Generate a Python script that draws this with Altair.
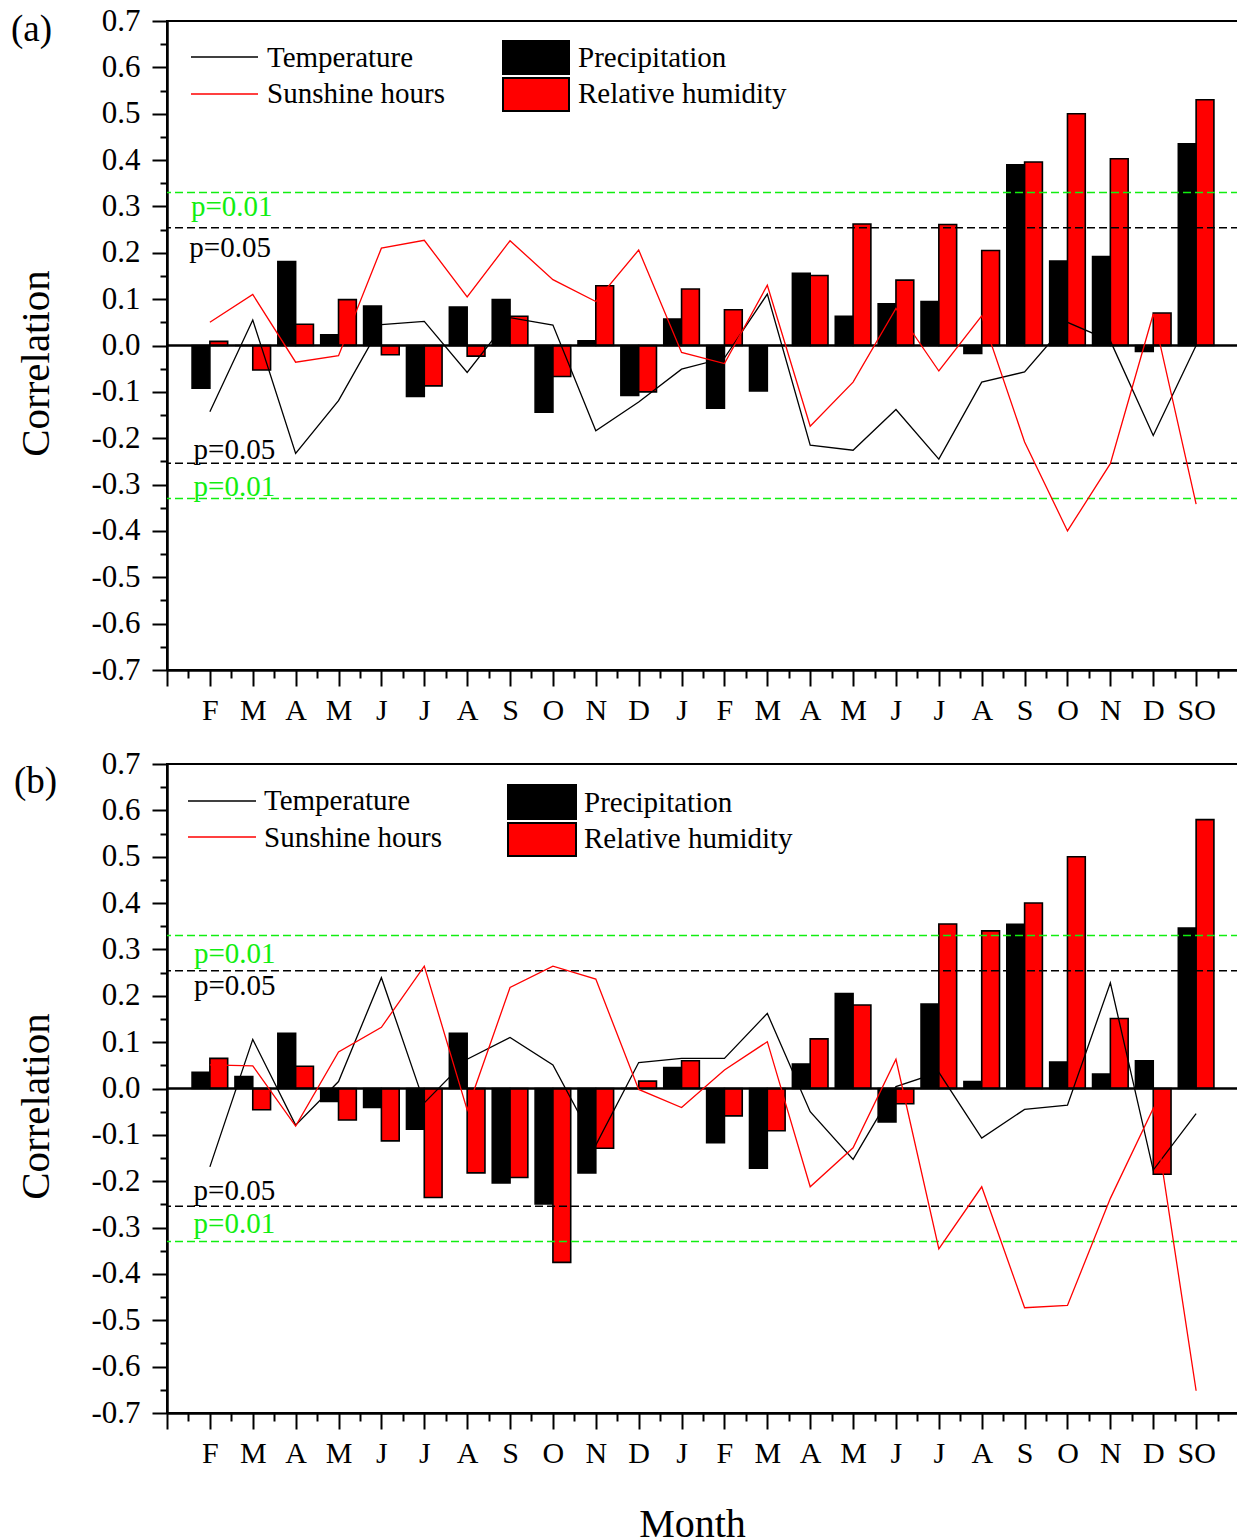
import altair as alt
import pandas as pd

# ---------------- data ----------------
months = ["F", "M", "A", "M", "J", "J", "A", "S", "O", "N", "D", "J",
          "F", "M", "A", "M", "J", "J", "A", "S", "O", "N", "D", "SO"]
idx = list(range(1, 25))

# panel (a)
prec_a = [-0.092, 0.0, 0.181, 0.023, 0.085, -0.11, 0.083, 0.099, -0.144, 0.01, -0.108, 0.057,
          -0.135, -0.098, 0.156, 0.063, 0.09, 0.095, -0.017, 0.39, 0.182, 0.192, -0.013, 0.435]
rh_a = [0.009, -0.053, 0.046, 0.099, -0.02, -0.087, -0.023, 0.063, -0.067, 0.129, -0.1, 0.122,
        0.077, 0.0, 0.151, 0.262, 0.141, 0.261, 0.205, 0.396, 0.50, 0.403, 0.07, 0.53]
temp_a = [-0.143, 0.055, -0.233, -0.119, 0.045, 0.052, -0.058, 0.06, 0.044, -0.184, -0.122, -0.051,
          -0.027, 0.111, -0.215, -0.226, -0.138, -0.245, -0.079, -0.057, 0.05, 0.01, -0.194, 0.0]
sun_a = [0.05, 0.11, -0.036, -0.022, 0.21, 0.227, 0.105, 0.226, 0.142, 0.095, 0.206, -0.015,
         -0.039, 0.13, -0.174, -0.079, 0.08, -0.055, 0.064, -0.208, -0.40, -0.255, 0.068, -0.342]

# panel (b)
prec_b = [0.035, 0.026, 0.119, -0.028, -0.041, -0.088, 0.119, -0.204, -0.249, -0.182, 0.0, 0.045,
          -0.117, -0.172, 0.053, 0.205, -0.072, 0.182, 0.015, 0.354, 0.057, 0.031, 0.06, 0.346]
rh_b = [0.065, -0.046, 0.048, -0.068, -0.113, -0.235, -0.182, -0.192, -0.375, -0.129, 0.016, 0.06,
        -0.059, -0.091, 0.107, 0.18, -0.033, 0.355, 0.34, 0.40, 0.50, 0.151, -0.185, 0.58]
temp_b = [-0.169, 0.106, -0.079, 0.015, 0.239, -0.031, 0.063, 0.11, 0.051, -0.122, 0.056, 0.065,
          0.065, 0.162, -0.05, -0.153, 0.004, 0.035, -0.107, -0.045, -0.036, 0.228, -0.176, -0.054]
sun_b = [0.051, 0.049, -0.081, 0.079, 0.132, 0.264, -0.046, 0.218, 0.264, 0.236, -0.002, -0.041,
         0.04, 0.101, -0.212, -0.128, 0.063, -0.346, -0.212, -0.473, -0.468, -0.237, -0.043, -0.652]

# significance thresholds
r05 = 0.254
r01 = 0.330

y_ticks = [round(-0.7 + 0.1 * i, 1) for i in range(15)]
y_minor = [round(-0.65 + 0.1 * i, 2) for i in range(14)]
x_ticks = list(range(0, 26))
x_minor = [i + 0.5 for i in range(25)]

# ---------------- styling ----------------
FONT = "Liberation Serif"
GREEN = "#11ee11"
W, H = 1072, 649
BW = 0.415  # bar width in category units

xs = alt.Scale(domain=[0, 25], nice=False, zero=False)
ys = alt.Scale(domain=[-0.7, 0.7], nice=False, zero=False)

label_expr_x = ("datum.value >= 1 && datum.value <= 24 ? "
                + "[" + ",".join("'%s'" % m for m in months) + "][datum.value - 1] : ''")
label_expr_y = ("datum.value < -0.00001 ? '-' + format(-datum.value, '.1f') : "
                "format(abs(datum.value), '.1f')")

dummy = pd.DataFrame({"d": [0]})


def panel(prec, rh, temp, sun, tag, tag_xy, leg, ann, xtitle):
    bars_df = pd.DataFrame({
        "idx": idx + idx,
        "var": ["Precipitation"] * 24 + ["Relative humidity"] * 24,
        "value": prec + rh,
    })
    lines_df = pd.DataFrame({
        "idx": idx + idx,
        "var": ["Temperature"] * 24 + ["Sunshine hours"] * 24,
        "value": temp + sun,
    })

    x_axis_kw = dict(
        values=x_ticks, labelExpr=label_expr_x, orient="bottom",
        labelFontSize=30, labelFont=FONT, labelColor="black", labelAngle=0,
        labelFlush=False, labelOverlap=False, labelPadding=9,
        tickSize=16, tickWidth=2, tickColor="black",
        domainWidth=2.5, domainColor="black", grid=False,
    )
    if xtitle:
        x_axis = alt.Axis(title=xtitle, titleFontSize=40, titleFont=FONT,
                          titleFontWeight="normal", titleColor="black",
                          titleX=525, titleY=123, titleBaseline="alphabetic",
                          **x_axis_kw)
    else:
        x_axis = alt.Axis(title=None, **x_axis_kw)

    y_axis = alt.Axis(
        values=y_ticks, labelExpr=label_expr_y, orient="left",
        labelFontSize=31, labelFont=FONT, labelColor="black",
        labelOverlap=False, labelPadding=12, labelFlush=False,
        tickSize=15, tickWidth=2, tickColor="black",
        domainWidth=2.5, domainColor="black", grid=False,
        title="Correlation", titleFontSize=41, titleFont=FONT,
        titleFontWeight="normal", titleColor="black", titleAngle=270,
        titleX=-119, titleY=342, titleBaseline="alphabetic", titleAlign="center",
    )
    x_minor_axis = alt.Axis(values=x_minor, labels=False, tickSize=8, tickWidth=2,
                            tickColor="black", domain=False, grid=False,
                            orient="bottom", title=None)
    y_minor_axis = alt.Axis(values=y_minor, labels=False, tickSize=7, tickWidth=2,
                            tickColor="black", domain=False, grid=False,
                            orient="left", title=None)

    bars = alt.Chart(bars_df).transform_calculate(
        lo=f"datum.idx - (datum.var == 'Precipitation' ? {BW} : 0)",
        hi=f"datum.idx + (datum.var == 'Precipitation' ? 0 : {BW})",
    ).mark_bar(stroke="black", strokeWidth=1.6).encode(
        x=alt.X("lo:Q", scale=xs, axis=x_axis),
        x2="hi:Q",
        y=alt.Y("value:Q", scale=ys, axis=y_axis),
        y2=alt.Y2Datum(0),
        fill=alt.Fill("var:N", scale=alt.Scale(domain=["Precipitation", "Relative humidity"],
                                               range=["black", "red"]), legend=None),
    )

    minor = alt.Chart(dummy).mark_point(opacity=0).encode(
        x=alt.X("d:Q", scale=xs, axis=x_minor_axis),
        y=alt.Y("d:Q", scale=ys, axis=y_minor_axis),
    )

    zero = alt.Chart(dummy).mark_rule(color="black", strokeWidth=2.5).encode(
        y=alt.YDatum(0, scale=ys, axis=None)
    )

    thr_df = pd.DataFrame({"v": [r05, -r05]})
    thr01_df = pd.DataFrame({"v": [r01, -r01]})
    thr05 = alt.Chart(thr_df).mark_rule(color="black", strokeWidth=1.4, strokeDash=[8, 4]).encode(
        y=alt.Y("v:Q", scale=ys, axis=None))
    thr01 = alt.Chart(thr01_df).mark_rule(color=GREEN, strokeWidth=1.4, strokeDash=[8, 4]).encode(
        y=alt.Y("v:Q", scale=ys, axis=None))

    lines = alt.Chart(lines_df).mark_line(strokeWidth=1.3).encode(
        x=alt.X("idx:Q", scale=xs, axis=None),
        y=alt.Y("value:Q", scale=ys, axis=None),
        stroke=alt.Stroke("var:N", scale=alt.Scale(domain=["Temperature", "Sunshine hours"],
                                                   range=["black", "red"]), legend=None),
    )

    ann_df = pd.DataFrame(ann, columns=["label", "x", "y", "c"])
    ann_text = alt.Chart(ann_df).mark_text(
        align="left", baseline="alphabetic", fontSize=29, font=FONT
    ).encode(
        x=alt.X("x:Q", scale=xs, axis=None),
        y=alt.Y("y:Q", scale=ys, axis=None),
        text="label:N",
        color=alt.Color("c:N", scale=None),
    )

    # legend (drawn inside the plot, positions in pixels)
    lx1, lx2, ly1, ly2, ltx, lb1, lb2, rx1, rx2, r1a, r1b, r2a, r2b, rtx, rb1, rb2 = leg
    leg_layers = [
        alt.Chart(dummy).mark_rule(color="black", strokeWidth=1.3).encode(
            x=alt.value(lx1), x2=alt.value(lx2), y=alt.value(ly1)),
        alt.Chart(dummy).mark_rule(color="red", strokeWidth=1.3).encode(
            x=alt.value(lx1), x2=alt.value(lx2), y=alt.value(ly2)),
        alt.Chart(dummy).mark_rect(fill="black", stroke="black", strokeWidth=2).encode(
            x=alt.value(rx1), x2=alt.value(rx2), y=alt.value(r1a), y2=alt.value(r1b)),
        alt.Chart(dummy).mark_rect(fill="red", stroke="black", strokeWidth=2).encode(
            x=alt.value(rx1), x2=alt.value(rx2), y=alt.value(r2a), y2=alt.value(r2b)),
    ]
    for txt, tx, ty in [("Temperature", ltx, lb1), ("Sunshine hours", ltx, lb2),
                        ("Precipitation", rtx, rb1), ("Relative humidity", rtx, rb2)]:
        leg_layers.append(
            alt.Chart(dummy).mark_text(text=txt, align="left", baseline="alphabetic",
                                       fontSize=29, font=FONT, color="black").encode(
                x=alt.value(tx), y=alt.value(ty)))

    tag_text = alt.Chart(dummy).mark_text(text=tag, align="left", baseline="alphabetic",
                                          fontSize=37, font=FONT, color="black").encode(
        x=alt.value(tag_xy[0]), y=alt.value(tag_xy[1]))

    layer = alt.layer(bars, minor, thr05, thr01, zero, lines, ann_text, *leg_layers, tag_text)
    return layer.resolve_axis(x="independent", y="independent").properties(width=W, height=H)


ann_a = [["p=0.01", 0.56, 0.28, GREEN], ["p=0.05", 0.52, 0.19, "black"],
         ["p=0.05", 0.62, -0.245, "black"], ["p=0.01", 0.62, -0.324, GREEN]]
ann_b = [["p=0.01", 0.63, 0.271, GREEN], ["p=0.05", 0.63, 0.202, "black"],
         ["p=0.05", 0.62, -0.24, "black"], ["p=0.01", 0.62, -0.312, GREEN]]

leg_a = (24, 91, 36, 73, 100, 46, 82, 336, 402, 20, 53, 57, 90, 411, 46, 82)
leg_b = (21, 89, 37, 73, 97, 46, 83, 341, 409, 21, 55, 59, 92, 417, 48, 84)

pa = panel(prec_a, rh_a, temp_a, sun_a, "(a)", (-156, 20), leg_a, ann_a, None)
pb = panel(prec_b, rh_b, temp_b, sun_b, "(b)", (-153, 29), leg_b, ann_b, "Month")

chart = alt.vconcat(pa, pb, spacing=21).properties(
    padding={"left": 2, "top": -4, "right": -5, "bottom": 0}
).configure(font=FONT).configure_view(stroke="black", strokeWidth=2)

chart.save("out.html", embed_options={"renderer": "svg", "actions": False})
